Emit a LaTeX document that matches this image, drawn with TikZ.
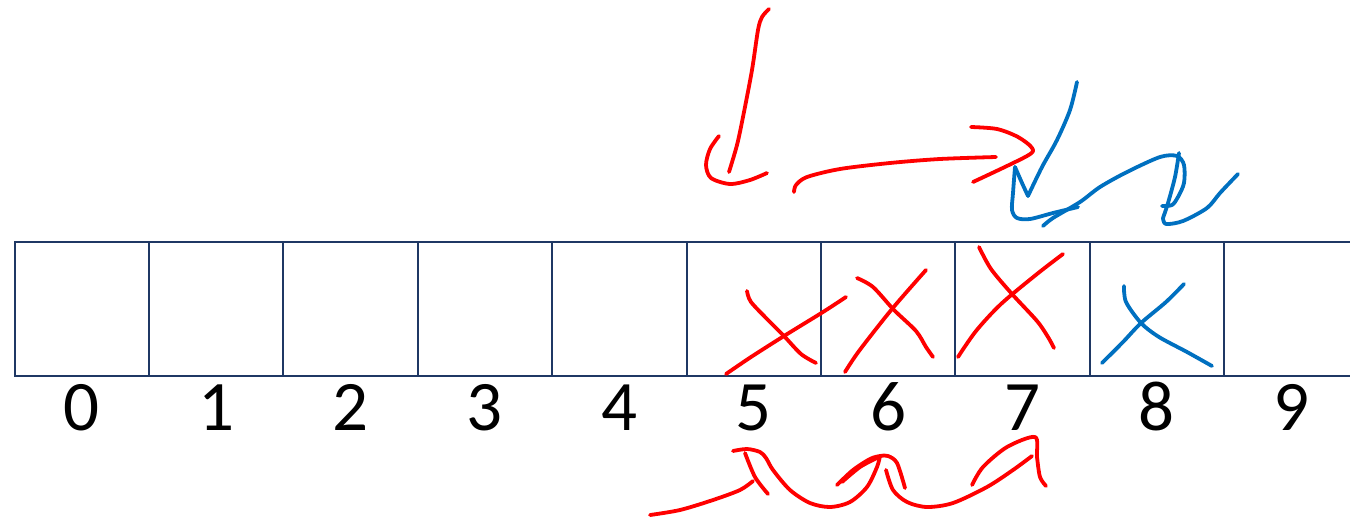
\documentclass[tikz,border=0pt]{standalone}
\usepackage{fontspec}
\setmainfont{Carlito}
\definecolor{boxline}{RGB}{31,56,100}
\definecolor{inkred}{RGB}{255,0,0}
\definecolor{inkblue}{RGB}{0,112,192}
\begin{document}
\begin{tikzpicture}[x=1pt,y=-1pt,
  cell/.style={draw=boxline,line width=2pt,minimum width=134.4pt,minimum height=134pt,inner sep=0pt,outer sep=0pt},
  idx/.style={font=\fontsize{71}{71}\selectfont,anchor=base,inner sep=0pt},
  redink/.style={draw=inkred,line width=3.8pt,line cap=round,line join=round},
  blueink/.style={draw=inkblue,line width=3.8pt,line cap=round,line join=round}]
\useasboundingbox (0,0) rectangle (1350,517);
\clip (0,0) rectangle (1350,517);
% cells and indices
\foreach \i in {0,...,9}{
  \node[cell] (c\i) at ({14.5+134.4*(\i+0.5)},309) {};
  \node[idx] (l\i) at ({14.5+134.4*(\i+0.5)},430) {\i};
}
% red top strokes
\draw[redink] plot[smooth] coordinates {(769,9) (762,17) (758,30) (752,70) (743,117) (737,145) (729,172)};
\draw[redink] plot[smooth] coordinates {(719,136) (710,149) (706,165) (711,178) (730,184) (750,180) (767,173)};
\draw[redink] plot[smooth] coordinates {(794,192) (796,185) (807,177) (840,169) (890,163) (940,159) (996,157)};
\draw[redink] plot[smooth] coordinates {(971,127) (997,129) (1018,137) (1032,148) (1027,156) (973,182)};
% blue top strokes
\draw[blueink] plot[smooth] coordinates {(1077,82) (1070,110) (1057,140) (1042,167) (1028,196)};
\draw[blueink] plot[smooth] coordinates {(1028,196) (1022,183) (1015,167)};
\draw[blueink] plot[smooth] coordinates {(1015,167) (1013,193) (1012,210) (1017,218) (1030,219) (1053,213) (1078,207)};
\draw[blueink] plot[smooth] coordinates {(1043,226) (1053,218) (1080,202) (1100,187) (1127,172) (1160,157) (1177,156) (1184,165) (1184,183) (1178,197) (1172,205) (1162,206)};
\draw[blueink] plot[smooth] coordinates {(1179,153) (1175,177) (1168,203) (1163,218)};
\draw[blueink] plot[smooth] coordinates {(1163,218) (1166,224) (1183,221) (1207,208) (1220,193) (1238,174)};
% crosses
\draw[redink] plot[smooth] coordinates {(747,291) (751,302) (769,321) (784,336) (801,354) (816,363)};
\draw[redink] plot[smooth] coordinates {(726,374) (751,357) (784,336) (823,312) (846,297)};
\draw[redink] plot[smooth] coordinates {(857,278) (873,287) (894,310) (916,331) (926,347) (933,357)};
\draw[redink] plot[smooth] coordinates {(845,372) (859,351) (892,309) (926,270)};
\draw[redink] plot[smooth] coordinates {(979,247) (991,269) (1012,294) (1037,321) (1048,337) (1054,348)};
\draw[redink] plot[smooth] coordinates {(958,357) (976,331) (1001,304) (1037,274) (1063,254)};
\draw[blueink] plot[smooth] coordinates {(1124,286) (1126,302) (1141,323) (1159,337) (1187,352) (1212,366)};
\draw[blueink] plot[smooth] coordinates {(1102,363) (1123,342) (1141,323) (1166,302) (1184,284)};
% bottom waves
\draw[redink] plot[smooth] coordinates {(650,515) (680,510) (713,500) (740,490) (753,481)};
\draw[redink] plot[smooth] coordinates {(745,453) (755,477) (768,494)};
\draw[redink] plot[smooth] coordinates {(733,451) (747,449) (760,452) (766,458) (773,470) (790,490) (810,503) (830,507) (850,502) (867,487) (877,467) (880,456)};
\draw[redink] plot[smooth] coordinates {(837,485) (853,470) (870,459) (880,456) (888,456) (897,463) (905,488)};
\draw[redink] plot[smooth] coordinates {(842,482) (860,467) (877,458)};
\draw[redink] plot[smooth] coordinates {(886,470) (893,490) (907,502) (927,507) (953,503) (987,487) (1013,470) (1032,456)};
\draw[redink] plot[smooth] coordinates {(972,485) (983,467) (1007,447) (1035,437) (1037,457) (1040,477) (1046,486)};
\end{tikzpicture}
\end{document}
